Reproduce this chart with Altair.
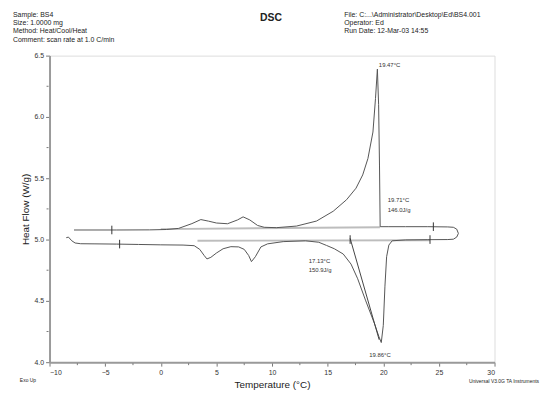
import altair as alt
import pandas as pd

# ---- data ----
heat_T = [-8.5, -8.3, -8.0, -7.7, -7.2, -6.0, -4.0, -2.0, 0.0, 2.0, 3.0, 3.5, 3.9, 4.15, 4.5, 5.0, 5.6, 6.3, 7.0, 7.5, 7.9, 8.15, 8.5, 9.0, 9.6, 11.0, 13.0, 14.2, 14.9, 15.6, 16.4, 17.1, 17.7, 18.4, 19.2, 19.6, 19.82, 20.0, 20.15, 20.3, 20.5, 20.8, 22.0, 24.0, 25.8]
heat_HF = [5.015, 5.02, 4.99, 4.972, 4.966, 4.965, 4.963, 4.96, 4.957, 4.955, 4.95, 4.92, 4.87, 4.842, 4.855, 4.89, 4.925, 4.942, 4.94, 4.92, 4.87, 4.82, 4.86, 4.94, 4.965, 4.983, 4.99, 4.978, 4.952, 4.925, 4.882, 4.80, 4.68, 4.506, 4.317, 4.21, 4.16, 4.30, 4.62, 4.86, 4.955, 4.99, 4.997, 4.999, 5.0]

loop_T = [26.3, 26.6, 26.75, 26.6, 26.3]
loop_HF = [5.003, 5.02, 5.05, 5.085, 5.1]

cool_T = [25.8, 24.0, 22.0, 20.5, 19.72, 19.66, 19.58, 19.47, 19.3, 19.07, 18.62, 18.15, 17.55, 16.7, 15.5, 14.0, 12.2, 10.4, 9.3, 8.7, 8.0, 7.4, 6.9, 6.0, 5.0, 4.3, 3.6, 2.8, 1.6, 0.5, -1.0, -4.0, -7.8]
cool_HF = [5.103, 5.105, 5.105, 5.105, 5.105, 5.6, 6.1, 6.39, 6.15, 5.877, 5.661, 5.527, 5.419, 5.325, 5.231, 5.151, 5.11, 5.097, 5.1, 5.115, 5.16, 5.185, 5.16, 5.129, 5.135, 5.15, 5.163, 5.13, 5.091, 5.082, 5.079, 5.078, 5.078]

# integration baselines
base_seg = ["up", "up", "low", "low"]
base_T = [0.0, 19.7, 3.3, 24.2]
base_HF = [5.085, 5.1, 4.99, 4.995]

# onset tangent
tan_T = [17.02, 19.63]
tan_HF = [5.01, 4.183]

# cursor marks
mark_T = [-4.4, 24.5, -3.7, 24.2, 17.02]
mark_HF = [5.078, 5.105, 4.963, 5.0, 5.0]

# annotations
ann_text = ["19.47°C", "19.71°C", "146.0J/g", "17.13°C", "150.9J/g"]
ann_T = [19.6, 20.4, 20.4, 13.3, 13.3]
ann_HF = [6.42, 5.323, 5.242, 4.823, 4.75]
min_text = ["19.86°C"]
min_T = [19.7]
min_HF = [4.06]

x_major = [-10, -5, 0, 5, 10, 15, 20, 25, 30]
x_minor = [-7.5, -2.5, 2.5, 7.5, 12.5, 17.5, 22.5, 27.5]
y_major = [4.0, 4.5, 5.0, 5.5, 6.0, 6.5]
y_minor = [4.25, 4.75, 5.25, 5.75, 6.25]

header_left = "Sample: BS4\nSize:  1.0000 mg\nMethod: Heat/Cool/Heat\nComment: scan rate at 1.0 C/min"
header_right = "File: C:...\\Administrator\\Desktop\\Ed\\BS4.001\nOperator: Ed\nRun Date: 12-Mar-03 14:55"

FONT = "Liberation Sans"
W, H = 450, 310

T_all = heat_T + loop_T + cool_T
HF_all = heat_HF + loop_HF + cool_HF
trace = pd.DataFrame({"T": T_all, "HF": HF_all, "o": list(range(len(T_all)))})

xs = alt.Scale(domain=[-10, 30], nice=False, zero=False)
ys = alt.Scale(domain=[4.0, 6.5], nice=False, zero=False)

xax = alt.Axis(values=x_major, format="d", title="Temperature (°C)", grid=False,
               domainColor="#9a9a9a", domainWidth=2, tickColor="#777", tickSize=4,
               labelFont=FONT, labelFontSize=7, labelColor="#333", labelPadding=2,
               titleFont=FONT, titleFontSize=10, titleFontWeight="normal", titleColor="#222", titlePadding=5)
yax = alt.Axis(values=y_major, format=".1f", title="Heat Flow (W/g)", grid=False,
               domainColor="#9a9a9a", domainWidth=2, tickColor="#777", tickSize=4,
               labelFont=FONT, labelFontSize=7, labelColor="#333", labelPadding=2,
               titleFont=FONT, titleFontSize=10, titleFontWeight="normal", titleColor="#222", titlePadding=4)

base = alt.Chart(trace)

baselines = alt.Chart(pd.DataFrame({"s": base_seg, "T": base_T, "HF": base_HF})).mark_line(
    color="#bdbdbd", strokeWidth=2).encode(
    x=alt.X("T:Q", scale=xs, axis=xax), y=alt.Y("HF:Q", scale=ys, axis=yax), detail="s:N")

line = base.mark_line(color="#555", strokeWidth=1).encode(
    x=alt.X("T:Q", scale=xs), y=alt.Y("HF:Q", scale=ys), order="o:Q")

tangent = alt.Chart(pd.DataFrame({"T": tan_T, "HF": tan_HF})).mark_line(
    color="#444", strokeWidth=1).encode(x=alt.X("T:Q", scale=xs), y=alt.Y("HF:Q", scale=ys))

mdf = pd.DataFrame({"T": mark_T, "HF": mark_HF})
mdf["lo"] = mdf["HF"] - 0.035
mdf["hi"] = mdf["HF"] + 0.035
marks = alt.Chart(mdf).mark_rule(color="#333", strokeWidth=1).encode(
    x=alt.X("T:Q", scale=xs), y=alt.Y("lo:Q", scale=ys), y2="hi:Q")

ann = alt.Chart(pd.DataFrame({"t": ann_text, "T": ann_T, "HF": ann_HF})).mark_text(
    font=FONT, fontSize=6, align="left", baseline="middle", color="#333").encode(
    x=alt.X("T:Q", scale=xs), y=alt.Y("HF:Q", scale=ys), text="t:N")
ann2 = alt.Chart(pd.DataFrame({"t": min_text, "T": min_T, "HF": min_HF})).mark_text(
    font=FONT, fontSize=6, align="center", baseline="middle", color="#333").encode(
    x=alt.X("T:Q", scale=xs), y=alt.Y("HF:Q", scale=ys), text="t:N")

xmin = alt.Chart(pd.DataFrame({"T": x_minor})).mark_rule(color="#777").encode(
    x=alt.X("T:Q", scale=xs), y=alt.value(H + 1), y2=alt.value(H + 3))
ymin = alt.Chart(pd.DataFrame({"HF": y_minor})).mark_rule(color="#777").encode(
    y=alt.Y("HF:Q", scale=ys), x=alt.value(-3), x2=alt.value(-1))

one = pd.DataFrame({"a": [0]})
def txt(s, x, y, size=7, align="left", weight="normal", lh=8.3):
    return alt.Chart(one).mark_text(text=s, font=FONT, fontSize=size, align=align, baseline="top",
                                    fontWeight=weight, color="#222", lineBreak="\n", lineHeight=lh).encode(
        x=alt.value(x), y=alt.value(y))

hl = txt(header_left, -37, -45)
hr = txt(header_right, 298, -45)
dsc = txt("DSC", 224, -43, size=10.5, align="center", weight="bold")
exo = txt("Exo Up", -30, 326, size=5)
univ = txt("Universal V3.0G TA Instruments", 495, 327, size=5, align="right")

chart = alt.layer(baselines, line, tangent, marks, ann, ann2, xmin, ymin, hl, hr, dsc, exo, univ).properties(
    width=W, height=H,
    autosize=alt.AutoSizeParams(type="none"),
    padding={"left": 42, "top": 46, "right": 48, "bottom": 28},
).configure_view(stroke="#9a9a9a", strokeWidth=2).configure(background="white")

chart.save("out.html", embed_options={"renderer": "svg", "actions": False})
